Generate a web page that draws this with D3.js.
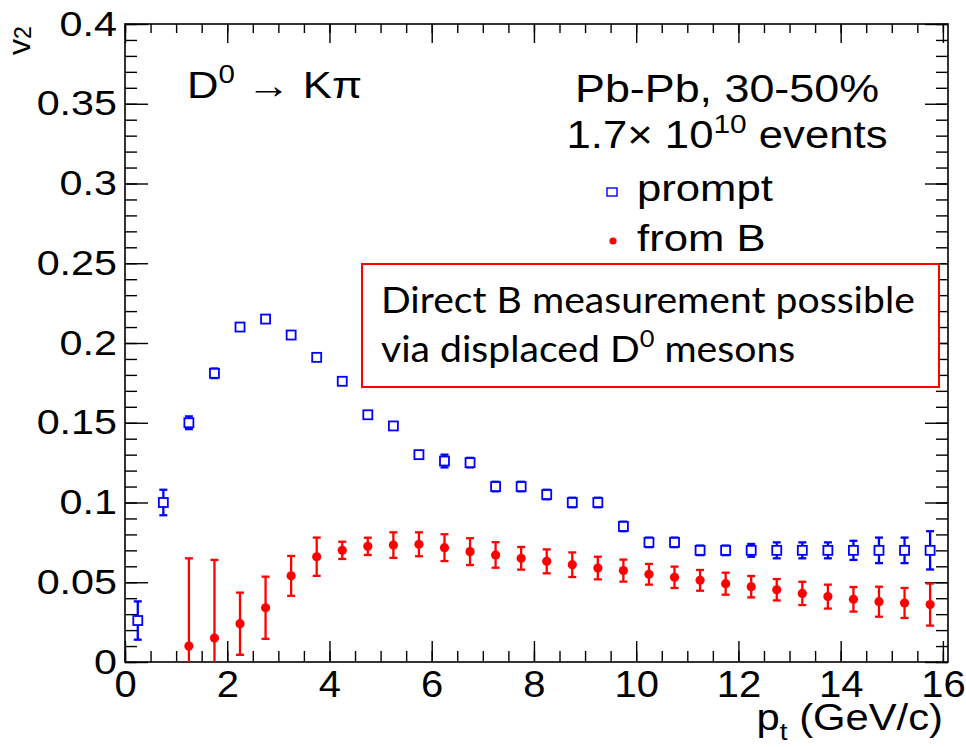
<!DOCTYPE html>
<html lang="en">
<head>
<meta charset="UTF-8">
<title>D0 v2 prompt vs from B</title>
<script src="https://d3js.org/d3.v7.min.js"></script>
<style>
  body { margin: 0; background: #fff; }
  text { font-family: "Liberation Sans", Arial, sans-serif; fill: #000; }
  .box text { font-family: Lato, "Open Sans", sans-serif; }
</style>
</head>
<body>
<div id="chart"></div>
<script>
// ---- data ----
var xTicks = [0, 2, 4, 6, 8, 10, 12, 14, 16];
var yTicks = [0, 0.05, 0.1, 0.15, 0.2, 0.25, 0.3, 0.35, 0.4];

var promptPt = [0.25, 0.75, 1.25, 1.75, 2.25, 2.75, 3.25, 3.75, 4.25, 4.75, 5.25, 5.75, 6.25, 6.75, 7.25, 7.75,
                8.25, 8.75, 9.25, 9.75, 10.25, 10.75, 11.25, 11.75, 12.25, 12.75, 13.25, 13.75, 14.25, 14.75, 15.25, 15.75];
var promptV2 = [0.026, 0.100, 0.150, 0.181, 0.210, 0.215, 0.205, 0.191, 0.176, 0.155, 0.148, 0.130, 0.126, 0.125, 0.110, 0.110,
                0.105, 0.100, 0.100, 0.085, 0.075, 0.075, 0.070, 0.070, 0.070, 0.070, 0.070, 0.070, 0.070, 0.070, 0.070, 0.070];
var promptErr = [0.012, 0.008, 0.004, 0.003, 0, 0, 0, 0, 0, 0, 0, 0, 0.004, 0.003, 0.003, 0.003,
                 0.003, 0.003, 0.003, 0.003, 0.003, 0.003, 0.003, 0.003, 0.004, 0.005, 0.005, 0.005, 0.006, 0.008, 0.008, 0.012];

var fromBPt = [1.25, 1.75, 2.25, 2.75, 3.25, 3.75, 4.25, 4.75, 5.25, 5.75, 6.25, 6.75, 7.25, 7.75, 8.25,
               8.75, 9.25, 9.75, 10.25, 10.75, 11.25, 11.75, 12.25, 12.75, 13.25, 13.75, 14.25, 14.75, 15.25, 15.75];
var fromBV2 = [0.010, 0.015, 0.024, 0.034, 0.054, 0.066, 0.070, 0.0725, 0.0733, 0.0738, 0.0717, 0.0692, 0.0671, 0.065, 0.0631,
               0.061, 0.0589, 0.0573, 0.055, 0.0531, 0.0512, 0.0491, 0.0472, 0.0453, 0.043, 0.041, 0.0393, 0.0378, 0.037, 0.036];
var fromBErr = [0.055, 0.049, 0.0195, 0.0195, 0.0125, 0.012, 0.0054, 0.0054, 0.008, 0.0075, 0.0084, 0.0084, 0.008, 0.0071, 0.0075,
                0.0077, 0.0071, 0.0069, 0.0065, 0.0067, 0.0065, 0.0069, 0.0067, 0.0067, 0.0073, 0.0075, 0.0077, 0.0094, 0.0094, 0.0132];

var W = 966, H = 747;
var L = 125, T = 24, R = 948, B = 662;
var SX = 1.18;   // the picture is stretched sideways
var BLUE = "#0000ff", RED = "#ff0000";

var svg = d3.select("#chart").append("svg")
    .attr("width", W).attr("height", H);

var x = d3.scaleLinear().domain([0, 16.1]).range([L, R]);
var y = d3.scaleLinear().domain([0, 0.4]).range([B, T]);

svg.append("clipPath").attr("id", "plot")
  .append("rect").attr("x", L).attr("y", T).attr("width", R - L).attr("height", B - T);

// ---- axes: ticks inward on all four sides ----
var xMinor = d3.range(0, 33).map(function(i) { return i * 0.5; });
var yMinor = d3.range(0, 41).map(function(i) { return i / 100; });
var fmt = function(d) { return String(+d.toFixed(2)); };

function styleAxis(g) {
  g.select(".domain").remove();
  g.selectAll("line").attr("stroke", "#000").attr("stroke-width", 1.4);
}

svg.append("g").attr("transform", "translate(0," + B + ")")
  .call(d3.axisBottom(x).tickValues(xMinor).tickSize(-11).tickFormat(""))
  .call(styleAxis);
var xAx = svg.append("g").attr("transform", "translate(0," + B + ")")
  .call(d3.axisBottom(x).tickValues(xTicks).tickSize(-21).tickPadding(9).tickFormat(fmt))
  .call(styleAxis);
xAx.selectAll("text").attr("font-size", 37).attr("font-family", "Liberation Sans, Arial, sans-serif")
  .attr("transform", "scale(1.08,1)");

svg.append("g").attr("transform", "translate(0," + T + ")")
  .call(d3.axisTop(x).tickValues(xMinor).tickSize(-9).tickFormat(""))
  .call(styleAxis);
svg.append("g").attr("transform", "translate(0," + T + ")")
  .call(d3.axisTop(x).tickValues(xTicks).tickSize(-19).tickFormat(""))
  .call(styleAxis);

svg.append("g").attr("transform", "translate(" + L + ",0)")
  .call(d3.axisLeft(y).tickValues(yMinor).tickSize(-12).tickFormat(""))
  .call(styleAxis);
var yAx = svg.append("g").attr("transform", "translate(" + L + ",0)")
  .call(d3.axisLeft(y).tickValues(yTicks).tickSize(-23).tickFormat(fmt))
  .call(styleAxis);
yAx.selectAll("text").attr("font-size", 35).attr("font-family", "Liberation Sans, Arial, sans-serif")
  .attr("x", 0).attr("transform", "translate(-8,0) scale(" + SX + ",1)");

svg.append("g").attr("transform", "translate(" + R + ",0)")
  .call(d3.axisRight(y).tickValues(yMinor).tickSize(-12).tickFormat(""))
  .call(styleAxis);
svg.append("g").attr("transform", "translate(" + R + ",0)")
  .call(d3.axisRight(y).tickValues(yTicks).tickSize(-23).tickFormat(""))
  .call(styleAxis);

svg.append("rect").attr("x", L).attr("y", T).attr("width", R - L).attr("height", B - T)
  .attr("fill", "none").attr("stroke", "#000").attr("stroke-width", 1.6);

// ---- axis titles ----
var xt = svg.append("text").attr("font-size", 36).attr("text-anchor", "end")
  .attr("transform", "translate(943,730) scale(1.16,1)");
xt.append("tspan").text("p");
xt.append("tspan").attr("font-size", 24).attr("dy", 10).text("t");
xt.append("tspan").attr("dy", -10).text(" (GeV/c)");

var yt = svg.append("text").attr("font-size", 32)
  .attr("transform", "translate(30,55) rotate(-90)");
yt.append("tspan").text("v");
yt.append("tspan").attr("font-size", 23).attr("dy", 1).text("2");

// ---- data series ----
var plot = svg.append("g").attr("clip-path", "url(#plot)");

function errorBars(pts, vals, errs, color, half) {
  var g = plot.append("g").attr("stroke", color).attr("stroke-width", 2.3);
  pts.forEach(function(p, i) {
    var e = errs[i];
    if (!e) return;
    var cx = x(p), yc = y(vals[i]), yHi = y(vals[i] + e), yLo = y(vals[i] - e);
    if (yc - yHi > half) {
      g.append("line").attr("x1", cx).attr("x2", cx).attr("y1", yHi).attr("y2", yc - half);
      g.append("line").attr("x1", cx).attr("x2", cx).attr("y1", yc + half).attr("y2", yLo);
    }
    g.append("line").attr("x1", cx - 4).attr("x2", cx + 4).attr("y1", yHi).attr("y2", yHi);
    g.append("line").attr("x1", cx - 4).attr("x2", cx + 4).attr("y1", yLo).attr("y2", yLo);
  });
}

errorBars(promptPt, promptV2, promptErr, BLUE, 4.5);
errorBars(fromBPt, fromBV2, fromBErr, RED, 0);

plot.append("g").selectAll("rect")
  .data(promptPt).enter().append("rect")
  .attr("x", function(d) { return x(d) - 4.5; })
  .attr("y", function(d, i) { return y(promptV2[i]) - 4.5; })
  .attr("width", 9).attr("height", 9)
  .attr("fill", "#fff").attr("stroke", BLUE).attr("stroke-width", 1.8);

plot.append("g").selectAll("circle")
  .data(fromBPt).enter().append("circle")
  .attr("cx", function(d) { return x(d); })
  .attr("cy", function(d, i) { return y(fromBV2[i]); })
  .attr("r", 4.6).attr("fill", RED);

// ---- annotations ----
var dk = svg.append("text").attr("font-size", 37)
  .attr("transform", "translate(187,98) scale(" + SX + ",1)");
dk.append("tspan").text("D");
dk.append("tspan").attr("font-size", 25).attr("dy", -15).text("0");
dk.append("tspan").attr("dy", 15).text(" \u2192 K\u03c0");

svg.append("text").attr("font-size", 38).attr("text-anchor", "middle")
  .attr("transform", "translate(727,102) scale(" + SX + ",1)")
  .text("Pb-Pb, 30-50%");

var ev = svg.append("text").attr("font-size", 38).attr("text-anchor", "middle")
  .attr("transform", "translate(727,148) scale(1.15,1)");
ev.append("tspan").text("1.7\u00d7 10");
ev.append("tspan").attr("font-size", 26).attr("dy", -15).text("10");
ev.append("tspan").attr("dy", 15).text(" events");

// legend
svg.append("rect").attr("x", 607).attr("y", 188).attr("width", 10).attr("height", 8)
  .attr("fill", "none").attr("stroke", BLUE).attr("stroke-width", 1.4);
svg.append("circle").attr("cx", 613).attr("cy", 241).attr("r", 3.6).attr("fill", RED);
svg.append("text").attr("font-size", 37)
  .attr("transform", "translate(637,201) scale(" + SX + ",1)").text("prompt");
svg.append("text").attr("font-size", 37)
  .attr("transform", "translate(637,251) scale(" + SX + ",1)").text("from B");

// red call-out box
var box = svg.append("g").attr("class", "box");
box.append("rect").attr("x", 362).attr("y", 264).attr("width", 577).attr("height", 123)
  .attr("fill", "#fff").attr("stroke", RED).attr("stroke-width", 2);
var l1 = box.append("text").attr("font-size", 37).attr("x", 0).attr("y", 0)
  .text("Direct B measurement possible");
var l2 = box.append("text").attr("font-size", 37).attr("x", 0).attr("y", 0);
l2.append("tspan").text("via displaced D");
l2.append("tspan").attr("font-size", 24).attr("dy", -15).text("0");
l2.append("tspan").attr("dy", 15).text(" mesons");
var bsx = 534 / l1.node().getComputedTextLength();
l1.attr("transform", "translate(381,313) scale(" + bsx + ",1)");
l2.attr("transform", "translate(381,362) scale(" + bsx + ",1)");
</script>
</body>
</html>
